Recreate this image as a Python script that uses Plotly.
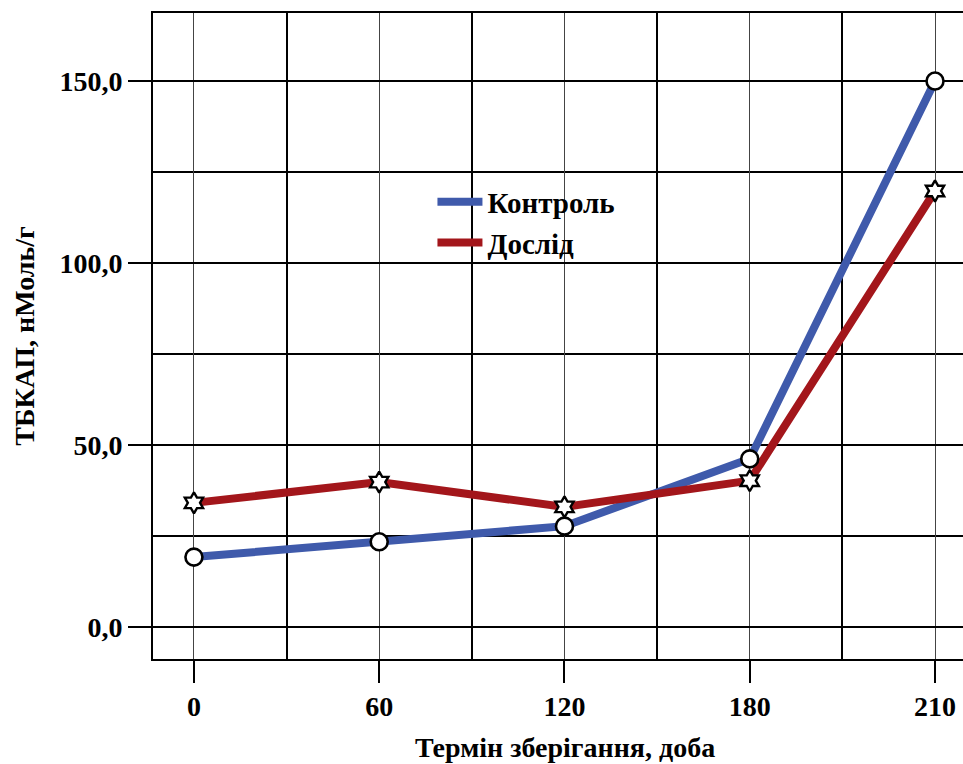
import plotly.graph_objects as go

categories = ["0", "60", "120", "180", "210"]
kontrol = [19.2, 23.4, 27.7, 46.2, 150.0]
doslid = [34.1, 39.8, 33.0, 40.2, 119.8]
y_ticks = [0, 50, 100, 150]
y_ticktext = ["0,0", "50,0", "100,0", "150,0"]

xpos = list(range(len(categories)))
FONT = "Liberation Serif"
BLUE = "#3F5AAB"
RED = "#A3161B"

fig = go.Figure()
fig.add_trace(go.Scatter(x=xpos, y=kontrol, mode="lines", name="Контроль",
                         line=dict(color=BLUE, width=8)))
fig.add_trace(go.Scatter(x=xpos, y=doslid, mode="lines", name="Дослід",
                         line=dict(color=RED, width=8)))
fig.add_trace(go.Scatter(x=xpos, y=kontrol, mode="markers", showlegend=False,
                         marker=dict(symbol="circle", size=17, color="white",
                                     line=dict(color="black", width=2.6))))
fig.add_trace(go.Scatter(x=xpos, y=doslid, mode="markers", showlegend=False,
                         marker=dict(symbol="hexagram", size=16, color="white",
                                     line=dict(color="black", width=2.4))))

fig.update_layout(
    width=963, height=764,
    margin=dict(l=153, r=0, t=13, b=105),
    paper_bgcolor="white", plot_bgcolor="white",
    font=dict(family=FONT, size=28, color="black"),
    showlegend=True,
    legend=dict(x=0.345, y=0.747, xanchor="left", yanchor="top",
                bgcolor="rgba(0,0,0,0)", itemwidth=45,
                font=dict(family=FONT, size=29, color="black", weight="bold")),
    xaxis=dict(
        range=[-0.221, 4.151],
        tickmode="array", tickvals=xpos, ticktext=categories,
        ticks="outside", ticklen=22, tickwidth=1.5, tickcolor="black",
        tickfont=dict(family=FONT, size=28, weight="bold"),
        showgrid=True, gridcolor="#444", gridwidth=1,
        minor=dict(tickvals=[0.5, 1.5, 2.5, 3.5], showgrid=True,
                   gridcolor="black", gridwidth=1.6, ticks=""),
        showline=True, linecolor="black", linewidth=1.6, mirror=True,
        zeroline=False,
    ),
    yaxis=dict(
        range=[-8.8, 168.7],
        tickmode="array", tickvals=y_ticks, ticktext=y_ticktext,
        ticks="outside", ticklen=23, tickwidth=1.5, tickcolor="black",
        tickfont=dict(family=FONT, size=28, weight="bold"),
        showgrid=True, gridcolor="black", gridwidth=1.6,
        minor=dict(tickvals=[25, 75, 125], showgrid=True,
                   gridcolor="black", gridwidth=1.6, ticks=""),
        showline=True, linecolor="black", linewidth=1.6,
        zeroline=False,
        title=dict(text="ТБКАП, нМоль/г", standoff=17,
                   font=dict(family=FONT, size=28, weight="bold")),
    ),
)
fig.add_annotation(text="Термін зберігання, доба", xref="paper", yref="paper",
                   x=(565 - 153) / 810, y=0, yshift=-88, yanchor="middle",
                   showarrow=False,
                   font=dict(family=FONT, size=28, weight="bold", color="black"))

fig.write_html("out.html", config={"displayModeBar": False},
               post_script="document.body.style.margin='0';")
